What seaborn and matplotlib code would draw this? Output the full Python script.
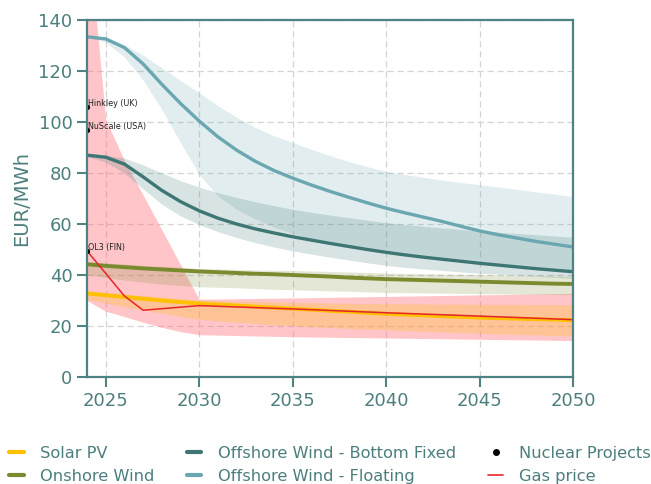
import matplotlib
matplotlib.use("Agg")
import matplotlib.pyplot as plt
from matplotlib.lines import Line2D
import seaborn as sns

# ---- data (EUR/MWh) ----
years = list(range(2024, 2051))

solar_mid = [32.8, 32.1, 31.4, 30.7, 30.0, 29.4, 28.8, 28.4, 28.0, 27.6, 27.2, 26.8, 26.4, 26.0,
             25.6, 25.2, 24.8, 24.5, 24.2, 23.9, 23.6, 23.3, 23.1, 22.9, 22.7, 22.5, 22.3]
solar_hi = [33.8, 33.2, 32.6, 32.0, 31.4, 30.8, 30.3, 30.0, 29.8, 29.6, 29.4, 29.2, 29.1, 29.0,
            28.9, 28.8, 28.8, 28.7, 28.7, 28.6, 28.6, 28.5, 28.5, 28.5, 28.4, 28.4, 28.4]
solar_lo = [30.5, 29.0, 27.6, 26.3, 25.1, 23.8, 22.6, 22.0, 21.5, 21.0, 20.5, 20.1, 19.7, 19.4,
            19.1, 18.8, 18.5, 18.2, 17.9, 17.7, 17.4, 17.2, 16.9, 16.7, 16.5, 16.3, 16.1]

onshore_mid = [44.2, 43.6, 43.1, 42.6, 42.2, 41.8, 41.4, 41.1, 40.8, 40.5, 40.3, 40.0, 39.7, 39.4,
               39.0, 38.7, 38.4, 38.2, 38.0, 37.8, 37.6, 37.4, 37.2, 37.0, 36.8, 36.6, 36.5]
onshore_hi = [45.3, 44.8, 44.3, 43.8, 43.4, 43.0, 42.6, 42.4, 42.2, 42.0, 41.9, 41.8, 41.6, 41.4,
              41.2, 41.0, 40.8, 40.6, 40.5, 40.4, 40.3, 40.2, 40.0, 39.9, 39.8, 39.6, 39.5]
onshore_lo = [40.0, 39.0, 38.0, 37.2, 36.5, 35.9, 35.4, 35.2, 35.0, 34.7, 34.4, 34.2, 34.0, 33.8,
              33.6, 33.4, 33.2, 33.1, 33.0, 32.9, 32.8, 32.7, 32.6, 32.5, 32.4, 32.35, 32.3]

bottom_mid = [87.0, 86.2, 83.5, 78.5, 73.2, 68.8, 65.2, 62.3, 60.0, 58.1, 56.5, 55.0, 53.7, 52.4,
              51.2, 50.0, 48.9, 47.9, 47.0, 46.2, 45.4, 44.6, 43.9, 43.2, 42.5, 41.9, 41.3]
bottom_hi = [87.3, 87.0, 85.8, 83.2, 80.0, 77.0, 74.5, 72.3, 70.4, 68.7, 67.2, 65.8, 64.6, 63.5,
             62.5, 61.5, 60.5, 59.8, 59.1, 58.5, 57.9, 57.3, 56.8, 56.3, 55.8, 55.3, 54.8]
bottom_lo = [86.5, 84.3, 80.0, 73.8, 67.8, 63.2, 59.8, 57.0, 54.7, 52.7, 51.0, 49.5, 48.2, 47.0,
             45.9, 44.8, 43.8, 43.0, 42.4, 41.8, 41.2, 40.7, 40.3, 39.9, 39.5, 39.1, 38.7]

floating_mid = [133.4, 132.6, 129.2, 122.8, 114.8, 107.3, 100.4, 94.2, 89.0, 84.6, 81.0, 78.0, 75.3,
                72.8, 70.5, 68.3, 66.2, 64.4, 62.7, 61.0, 59.1, 57.3, 55.8, 54.5, 53.2, 52.1, 51.0]
floating_hi = [133.5, 133.0, 130.3, 126.2, 121.3, 116.3, 111.5, 106.4, 101.9, 97.9, 94.6, 92.0, 89.3,
               86.8, 84.5, 82.5, 80.6, 79.4, 78.3, 77.2, 76.3, 75.4, 74.5, 73.6, 72.6, 71.7, 70.8]
floating_lo = [133.3, 131.3, 125.5, 116.5, 105.0, 92.0, 79.5, 71.0, 65.8, 62.0, 58.8, 56.3, 54.3,
               52.6, 51.1, 49.8, 48.7, 47.7, 46.8, 46.0, 45.2, 44.5, 43.8, 43.2, 42.6, 42.0, 41.5]

gas_band_years = [2024, 2025, 2026, 2027, 2028, 2029, 2030, 2035, 2040, 2045, 2050]
gas_hi = [180.0, 101.0, 85.0, 71.4, 57.8, 44.1, 30.5, 31.0, 31.6, 32.2, 32.8]
gas_lo = [30.0, 25.8, 23.7, 21.5, 19.5, 17.8, 16.6, 15.8, 15.3, 14.8, 14.3]

gas_years = [2024, 2026, 2027, 2030, 2035, 2040, 2045, 2050]
gas_price = [49.5, 31.8, 26.2, 28.0, 26.7, 25.2, 23.9, 22.5]

nuclear_names = ["Hinkley (UK)", "NuScale (USA)", "OL3 (FIN)"]
nuclear_year = [2024, 2024, 2024]
nuclear_cost = [106.0, 97.0, 49.5]

# ---- styling ----
C_SOLAR = "#ffc000"
C_ONSHORE = "#7a8b2f"
C_BOTTOM = "#3d7673"
C_FLOAT = "#6aa7b0"
C_GAS = "#e3262c"
C_GAS_BAND = "#ff6f7a"
C_AXIS = "#4f8383"
C_TEXT = "#4d7e7e"

sns.set_theme(style="whitegrid")
plt.rcParams["font.family"] = ["DejaVu Sans"]

fig = plt.figure(figsize=(6.51, 4.84), dpi=100)
ax = fig.add_axes([0.1336, 0.221, 0.7466, 0.7377])
ax.set_facecolor("white")

# uncertainty bands
ax.fill_between(gas_band_years, gas_lo, gas_hi, color=C_GAS_BAND, alpha=0.4, lw=0, zorder=1)
ax.fill_between(years, floating_lo, floating_hi, color=C_FLOAT, alpha=0.2, lw=0, zorder=1)
ax.fill_between(years, bottom_lo, bottom_hi, color=C_BOTTOM, alpha=0.2, lw=0, zorder=1)
ax.fill_between(years, onshore_lo, onshore_hi, color=C_ONSHORE, alpha=0.2, lw=0, zorder=1)
ax.fill_between(years, solar_lo, solar_hi, color=C_SOLAR, alpha=0.25, lw=0, zorder=1)

# central estimates
sns.lineplot(x=years, y=floating_mid, color=C_FLOAT, lw=2.4, ax=ax, zorder=3)
sns.lineplot(x=years, y=bottom_mid, color=C_BOTTOM, lw=2.4, ax=ax, zorder=3)
sns.lineplot(x=years, y=onshore_mid, color=C_ONSHORE, lw=2.8, ax=ax, zorder=3)
sns.lineplot(x=years, y=solar_mid, color=C_SOLAR, lw=2.8, ax=ax, zorder=3)
sns.lineplot(x=gas_years, y=gas_price, color=C_GAS, lw=1.1, ax=ax, zorder=4)

# nuclear reference projects
sns.scatterplot(x=nuclear_year, y=nuclear_cost, color="black", s=14, linewidth=0,
                ax=ax, zorder=5)
for name, xv, yv in zip(nuclear_names, nuclear_year, nuclear_cost):
    ax.annotate(name, (xv, yv), xytext=(0.5, 2.2), textcoords="offset points",
                fontsize=5.8, color="#222222", ha="left", va="center", zorder=6)

ax.set_xlim(2024, 2050)
ax.set_ylim(0, 140)
ax.set_xticks([2025, 2030, 2035, 2040, 2045, 2050])
ax.set_yticks(range(0, 141, 20))

ax.grid(True, color="#d4d4d4", lw=0.9, linestyle=(0, (5, 3)))
ax.set_axisbelow(True)
for side in ["left", "bottom", "right", "top"]:
    ax.spines[side].set_visible(True)
    ax.spines[side].set_color(C_AXIS)
    ax.spines[side].set_linewidth(1.6)
    ax.spines[side].set_zorder(7)

ax.tick_params(axis="both", which="major", direction="out", length=7, width=1.5,
               color=C_AXIS, labelcolor=C_TEXT, labelsize=13, pad=3.5,
               left=True, bottom=True, right=False, top=False)
ax.set_ylabel("EUR/MWh", fontsize=14, color=C_TEXT, labelpad=5)
ax.set_xlabel("")

handles = [
    Line2D([], [], color=C_SOLAR, lw=3),
    Line2D([], [], color=C_ONSHORE, lw=3),
    Line2D([], [], color=C_BOTTOM, lw=3),
    Line2D([], [], color=C_FLOAT, lw=3),
    Line2D([], [], color="black", marker="o", markersize=4, lw=0),
    Line2D([], [], color=C_GAS, lw=1.2),
]
labels = ["Solar PV", "Onshore Wind", "Offshore Wind - Bottom Fixed",
          "Offshore Wind - Floating", "Nuclear Projects", "Gas price"]
ax.legend(handles, labels, ncol=3, loc="upper center", bbox_to_anchor=(0.5, -0.152),
          frameon=False, fontsize=11.7, labelcolor=C_TEXT, handlelength=0.9,
          handletextpad=1.0, columnspacing=2.0, labelspacing=0.47)

fig.savefig("out.png", dpi=100, facecolor="white")
